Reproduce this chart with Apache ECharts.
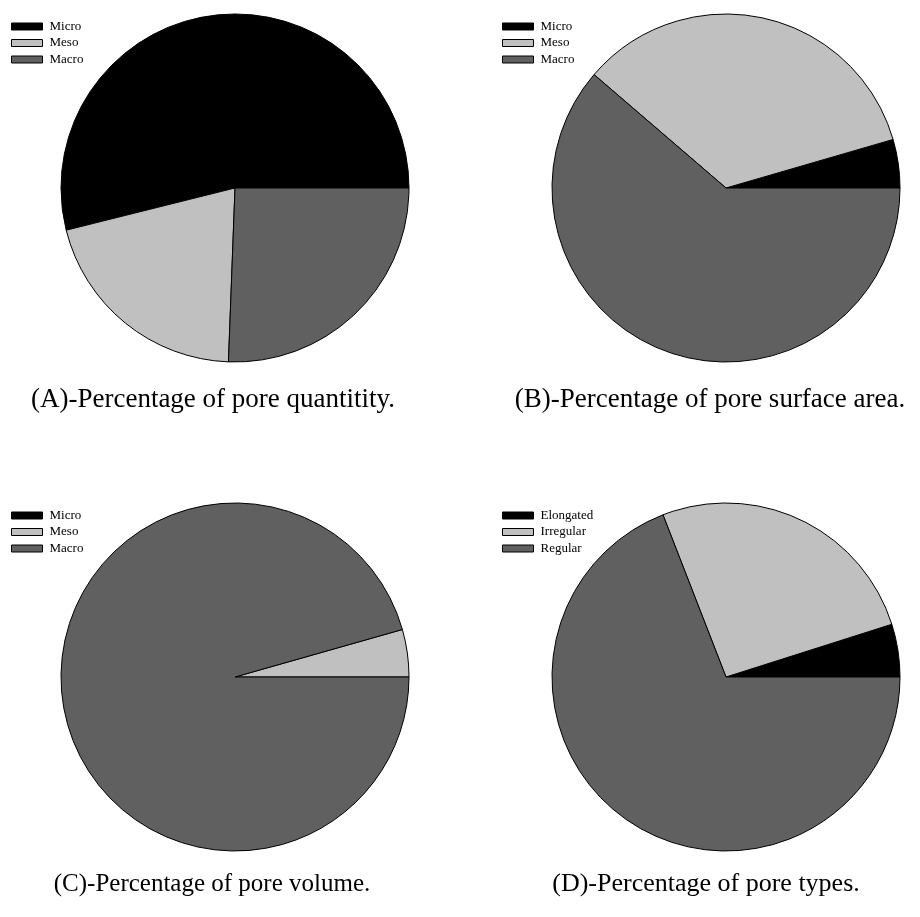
<!DOCTYPE html>
<html>
<head>
<meta charset="utf-8">
<script src="https://cdn.jsdelivr.net/npm/echarts@6/dist/echarts.min.js"></script>
<style>html,body{margin:0;padding:0;background:#fff}#c{width:920px;height:917px}</style>
</head>
<body>
<div id="c"></div>
<script>
const sizeCats = ['Micro', 'Meso', 'Macro'];
const typeCats = ['Elongated', 'Irregular', 'Regular'];
const quantityValues = [53.9, 20.5, 25.6];
const surfaceValues = [4.5, 34.2, 61.3];
const volumeValues = [0, 4.4, 95.6];
const typeValues = [4.9, 26.0, 69.1];
const titles = [
  '(A)-Percentage of pore quantitity.',
  '(B)-Percentage of pore surface area.',
  '(C)-Percentage of pore volume.',
  '(D)-Percentage of pore types.'
];
const colors = ['#000000', '#c0c0c0', '#606060'];
const FONT = '"Liberation Serif", "Times New Roman", serif';

const panels = [
  {cats: sizeCats, vals: quantityValues, cx: 235, cy: 188, lx: 11, ly: 20, tx: 213, ty: 400, fs: 27},
  {cats: sizeCats, vals: surfaceValues, cx: 726, cy: 188, lx: 502, ly: 20, tx: 710, ty: 400, fs: 27},
  {cats: sizeCats, vals: volumeValues, cx: 235, cy: 677, lx: 11, ly: 509, tx: 212, ty: 884, fs: 25},
  {cats: typeCats, vals: typeValues, cx: 726, cy: 677, lx: 502, ly: 509, tx: 706, ty: 884, fs: 26}
];

const series = panels.map((p, i) => ({
  type: 'pie',
  name: 'pie' + i,
  center: [p.cx, p.cy],
  radius: [0, 174],
  startAngle: 0,
  clockwise: false,
  silent: true,
  animation: false,
  label: {show: false},
  labelLine: {show: false},
  emphasis: {disabled: true},
  itemStyle: {borderColor: '#000', borderWidth: 1},
  data: p.cats.map((c, j) => ({name: c, value: p.vals[j], itemStyle: {color: colors[j]}}))
}));

const legends = panels.map(p => ({
  data: p.cats,
  left: p.lx,
  top: p.ly,
  orient: 'vertical',
  icon: 'rect',
  itemWidth: 31,
  itemHeight: 7,
  itemGap: 3.5,
  padding: 0,
  selectedMode: false,
  itemStyle: {borderColor: '#000', borderWidth: 1},
  textStyle: {fontFamily: FONT, fontSize: 13, color: '#000', lineHeight: 13, padding: [0, 0, 0, 2]}
}));

const graphics = panels.map((p, i) => ({
  type: 'text',
  x: p.tx,
  y: p.ty,
  style: {text: titles[i], fontFamily: FONT, fontSize: p.fs, fill: '#000', textAlign: 'center', textVerticalAlign: 'middle'}
}));

const chart = echarts.init(document.getElementById('c'), null, {renderer: 'canvas'});
chart.setOption({
  backgroundColor: '#fff',
  animation: false,
  color: colors,
  legend: legends,
  series: series,
  graphic: graphics
});
</script>
</body>
</html>
